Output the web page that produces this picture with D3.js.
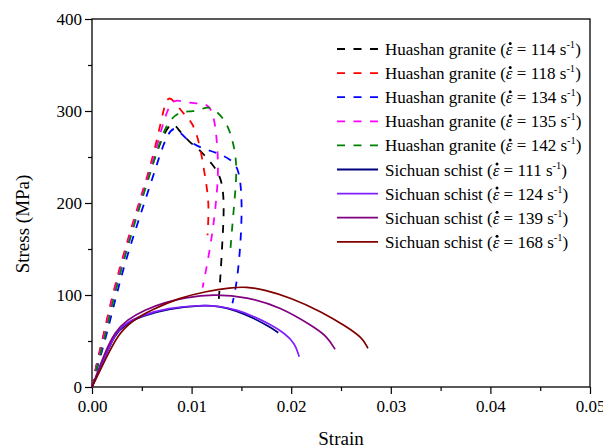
<!DOCTYPE html>
<html>
<head>
<meta charset="utf-8">
<script src="https://cdn.jsdelivr.net/npm/d3@7"></script>
<style>
  body { margin: 0; background: #fff; }
</style>
</head>
<body>
<svg id="chart" width="603" height="448"></svg>
<script>
var SERIF = "'Liberation Serif', 'Times New Roman', serif";

// strain / stress curves
var granite114 = [[0,0],[0.0004,22],[0.0011,52],[0.002,95],[0.003,135],[0.004,172],[0.005,206],[0.006,240],[0.007,270],[0.0077,284],[0.0082,287],[0.0088,278],[0.0097,267],[0.0108,258],[0.0121,242],[0.0130,228],[0.0133,200],[0.0131,160],[0.0129,120],[0.0127,91]];
var granite118 = [[0,0],[0.0004,22],[0.0011,54],[0.002,98],[0.003,138],[0.004,175],[0.005,210],[0.006,245],[0.0068,282],[0.0073,307],[0.0077,316],[0.0083,310],[0.0091,298],[0.0101,288],[0.0108,265],[0.0113,233],[0.0117,205],[0.0117,185],[0.0116,165]];
var granite134 = [[0,0],[0.0005,20],[0.0014,54],[0.0024,98],[0.0034,138],[0.0044,172],[0.0054,205],[0.0064,238],[0.0072,265],[0.0079,280],[0.0085,282],[0.0095,268],[0.0111,259],[0.0125,255],[0.0140,247],[0.0148,237],[0.0151,200],[0.0149,150],[0.0145,110],[0.0141,91]];
var granite135 = [[0,0],[0.0004,20],[0.0012,54],[0.0021,98],[0.0031,138],[0.0041,175],[0.0051,210],[0.0061,245],[0.007,282],[0.0077,305],[0.0083,313],[0.0095,309],[0.011,308],[0.0118,306],[0.0123,292],[0.0126,262],[0.0127,230],[0.0124,195],[0.0121,168],[0.0116,135],[0.0111,108]];
var granite142 = [[0,0],[0.0005,22],[0.0013,54],[0.0022,98],[0.0032,138],[0.0042,175],[0.0052,210],[0.0062,245],[0.0071,276],[0.0079,292],[0.009,300],[0.0101,299],[0.0112,303],[0.0119,305],[0.0131,294],[0.0139,278],[0.0145,250],[0.0145,225],[0.0142,190],[0.0139,150]];
var schist111 = [[0,0],[0.0013,33],[0.0023,57],[0.0033,68],[0.005,77],[0.0076,85],[0.011,89],[0.0127,88],[0.0145,83],[0.0162,75],[0.0179,65],[0.0187,59]];
var schist124 = [[0,0],[0.0013,33],[0.0023,58],[0.0033,69],[0.005,78],[0.0076,86],[0.011,89],[0.0127,88],[0.0145,84],[0.0162,77],[0.0179,68],[0.0194,58],[0.0204,47],[0.0208,33]];
var schist139 = [[0,0],[0.0013,38],[0.0023,60],[0.0035,73],[0.0053,84],[0.0073,92],[0.0093,97],[0.0121,101],[0.0156,98],[0.0189,87],[0.0222,66],[0.0236,55],[0.0244,41]];
var schist168 = [[0,0],[0.0013,29],[0.0026,57],[0.004,72],[0.006,84],[0.0088,97],[0.0115,104],[0.0139,108],[0.0155,109],[0.0172,106],[0.0200,97],[0.0230,82],[0.0255,66],[0.0272,53],[0.0277,42]];

var rockNames = ["Huashan granite","Huashan granite","Huashan granite","Huashan granite","Huashan granite",
                 "Sichuan schist","Sichuan schist","Sichuan schist","Sichuan schist"];
var rates = [114, 118, 134, 135, 142, 111, 124, 139, 168];
var colors = ["#000000","#ff0000","#0000ff","#ff00ff","#008000","#000080","#8020ff","#800080","#800000"];
var curves = [granite114, granite118, granite134, granite135, granite142, schist111, schist124, schist139, schist168];

var xTicks = [0, 0.01, 0.02, 0.03, 0.04, 0.05];
var yTicks = [0, 100, 200, 300, 400];

var margin = {top: 19, right: 13, bottom: 61, left: 92};
var W = 603, H = 448;
var svg = d3.select("#chart");
var g = svg.append("g").attr("transform", "translate(" + margin.left + "," + margin.top + ")");
var w = W - margin.left - margin.right, h = H - margin.top - margin.bottom;

var x = d3.scaleLinear().domain([0, 0.05]).range([0, w]);
var y = d3.scaleLinear().domain([0, 400]).range([h, 0]);

/* minor ticks first, then major with labels */
g.append("g").attr("transform", "translate(0," + h + ")")
  .call(d3.axisBottom(x).tickValues(d3.range(0.005, 0.05, 0.01)).tickSize(4).tickFormat(""))
  .call(function(s){ s.select(".domain").remove(); });
g.append("g")
  .call(d3.axisLeft(y).tickValues(d3.range(50, 400, 100)).tickSize(4).tickFormat(""))
  .call(function(s){ s.select(".domain").remove(); });

var xAxis = g.append("g").attr("transform", "translate(0," + h + ")")
  .call(d3.axisBottom(x).tickValues(xTicks).tickSize(7).tickPadding(6).tickFormat(d3.format(".2f")));
var yAxis = g.append("g")
  .call(d3.axisLeft(y).tickValues(yTicks).tickSize(7).tickPadding(3).tickFormat(d3.format("d")));

[xAxis, yAxis].forEach(function(a) {
  a.selectAll("text").style("font-family", SERIF).style("font-size", "17px").attr("fill", "#000");
  a.select(".domain").remove();
});
svg.selectAll(".tick line").attr("stroke", "#000").attr("stroke-width", 1.2);

// frame
g.append("rect").attr("width", w).attr("height", h)
  .attr("fill", "none").attr("stroke", "#000").attr("stroke-width", 1.3);

var line = d3.line()
  .x(function(d) { return x(d[0]); })
  .y(function(d) { return y(d[1]); })
  .curve(d3.curveBasis);

g.selectAll("path.curve").data(curves).enter().append("path")
  .attr("class", "curve")
  .attr("d", line)
  .attr("fill", "none")
  .attr("stroke", function(d, i) { return colors[i]; })
  .attr("stroke-width", function(d, i) { return i < 5 ? 1.8 : 1.7; })
  .attr("stroke-dasharray", function(d, i) { return i < 5 ? "8,8.5" : null; });

/* legend */
var legend = svg.append("g").attr("transform", "translate(337,49)");
var rows = legend.selectAll("g").data(rates).enter().append("g")
  .attr("transform", function(d, i) { return "translate(0," + (i * 24.1) + ")"; });
rows.append("line")
  .attr("x1", 0).attr("x2", 41).attr("y1", 0).attr("y2", 0)
  .attr("stroke", function(d, i) { return colors[i]; })
  .attr("stroke-width", 1.8)
  .attr("stroke-dasharray", function(d, i) { return i < 5 ? "8,8.5" : null; });
var lt = rows.append("text").attr("x", 48).attr("y", 6)
  .style("font-family", SERIF).style("font-size", "17px").attr("fill", "#000");
lt.append("tspan").text(function(d, i) { return rockNames[i] + " ("; });
lt.append("tspan").style("font-style", "italic").text("\u03b5");
lt.append("tspan").text(function(d) { return " = " + d + " s"; });
lt.append("tspan").attr("dy", -7).style("font-size", "10.5px").text("-1");
lt.append("tspan").attr("dy", 7).text(")");

// dot over the epsilon (strain rate)
lt.each(function(d, i) {
  var k = rockNames[i].length + 2;
  var ext = this.getExtentOfChar(k);
  d3.select(this.parentNode).append("circle")
    .attr("cx", ext.x + ext.width / 2 + 1)
    .attr("cy", -5.5)
    .attr("r", 1.5)
    .attr("fill", "#000");
});

// axis titles
svg.append("text").attr("x", margin.left + w / 2).attr("y", 445)
  .attr("text-anchor", "middle").style("font-family", SERIF).style("font-size", "19px").text("Strain");
svg.append("text").attr("transform", "translate(29,224) rotate(-90)")
  .attr("text-anchor", "middle").style("font-family", SERIF).style("font-size", "19px").text("Stress (MPa)");
</script>
</body>
</html>
